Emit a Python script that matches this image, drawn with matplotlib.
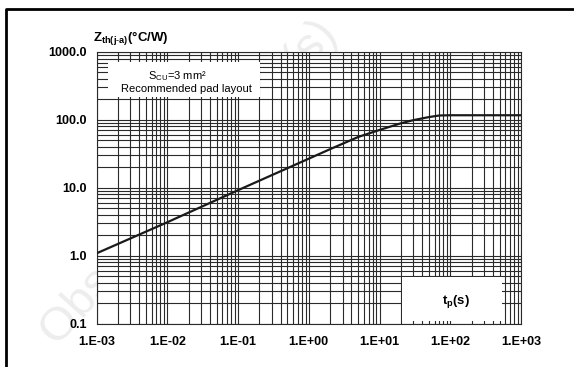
import matplotlib
matplotlib.use("Agg")
import matplotlib.pyplot as plt
from matplotlib.lines import Line2D
from matplotlib.patches import Rectangle
from matplotlib.ticker import FixedLocator, LogLocator, NullFormatter

plt.rcParams['font.family'] = ['Liberation Sans', 'DejaVu Sans']
plt.rcParams['mathtext.fontset'] = 'custom'
plt.rcParams['mathtext.rm'] = 'Liberation Sans'
plt.rcParams['mathtext.bf'] = 'Liberation Sans:bold'
plt.rcParams['mathtext.it'] = 'Liberation Sans:italic'

# data
tp = [1e-3, 1e-2, 1e-1, 1, 2, 5, 10, 20, 30, 50, 70, 100, 1000]
zth = [1.08, 3.1, 9.2, 26.8, 37, 56, 71, 89, 99, 110, 116, 117, 117]

xticks = [1e-3, 1e-2, 1e-1, 1e0, 1e1, 1e2, 1e3]
xlabels = ["1.E-03", "1.E-02", "1.E-01", "1.E+00", "1.E+01", "1.E+02", "1.E+03"]
yticks = [0.1, 1, 10, 100, 1000]
ylabels = ["0.1", "1.0", "10.0", "100.0", "1000.0"]

W, H = 574, 367
fig = plt.figure(figsize=(W / 100, H / 100), dpi=100)
fig.patch.set_facecolor('white')

ax = fig.add_axes([96.5 / W, 1 - 323.5 / H, 424.5 / W, 271.5 / H])
ax.set_zorder(2)
ax.set_facecolor('white')
ax.set_xscale('log')
ax.set_yscale('log')
ax.set_xlim(1e-3, 1e3)
ax.set_ylim(0.1, 1000)

# faint watermark behind the chart
wm = fig.text(0.33, 0.50, "Obsolete Product(s)", rotation=48, fontsize=34,
              color='#ededed', ha='center', va='center')
wm.set_zorder(-5)

ax.xaxis.set_major_locator(FixedLocator(xticks))
ax.set_xticklabels(xlabels)
ax.yaxis.set_major_locator(FixedLocator(yticks))
ax.set_yticklabels(ylabels)
ax.xaxis.set_minor_locator(LogLocator(base=10, subs=range(2, 10), numticks=20))
ax.yaxis.set_minor_locator(LogLocator(base=10, subs=range(2, 10), numticks=20))
ax.xaxis.set_minor_formatter(NullFormatter())
ax.yaxis.set_minor_formatter(NullFormatter())

ax.tick_params(which='both', length=0)
ax.tick_params(axis='x', pad=9, labelsize=9)
ax.tick_params(axis='y', pad=7, labelsize=9)
for lab in ax.get_xticklabels() + ax.get_yticklabels():
    lab.set_fontweight('bold')

ax.grid(True, which='both', color='#2a2a2a', linewidth=0.8)
for s in ax.spines.values():
    s.set_linewidth(0.8)
    s.set_color('#2a2a2a')

ax.plot(tp, zth, color='#1a1a1a', linewidth=1.6, zorder=3)

# white label boxes covering the grid
ax.add_patch(Rectangle((0.027, 0.834), 0.358, 0.13, transform=ax.transAxes,
                       facecolor='white', edgecolor='none', zorder=2.5))
ax.add_patch(Rectangle((0.719, 0.0105), 0.236, 0.159, transform=ax.transAxes,
                       facecolor='white', edgecolor='none', zorder=2.5))

ax.text(0.19, 0.912, r"S$_{\mathrm{CU}}$=3 mm²", transform=ax.transAxes,
        ha='center', va='center', fontsize=8, zorder=4)
ax.text(0.212, 0.864, "Recommended pad layout", transform=ax.transAxes,
        ha='center', va='center', fontsize=8, zorder=4)
ax.text(0.846, 0.080, r"$\mathbf{t_p}$$\mathbf{(s)}$", transform=ax.transAxes,
        ha='center', va='center', fontsize=9.5, zorder=4)

fig.text(92.7 / W, 1 - 41.7 / H, r"$\mathbf{Z_{th(j\text{-}a)}(°C/W)}$",
         ha='left', va='baseline', fontsize=9.5)

# outer frame (left and top edges visible)
x0 = 5.5 / W
y0 = 1 - 8.5 / H
fig.add_artist(Line2D([x0, x0, 1.05], [-0.05, y0, y0], transform=fig.transFigure,
                      color='black', linewidth=2.0))

fig.savefig("out.png", dpi=100)
